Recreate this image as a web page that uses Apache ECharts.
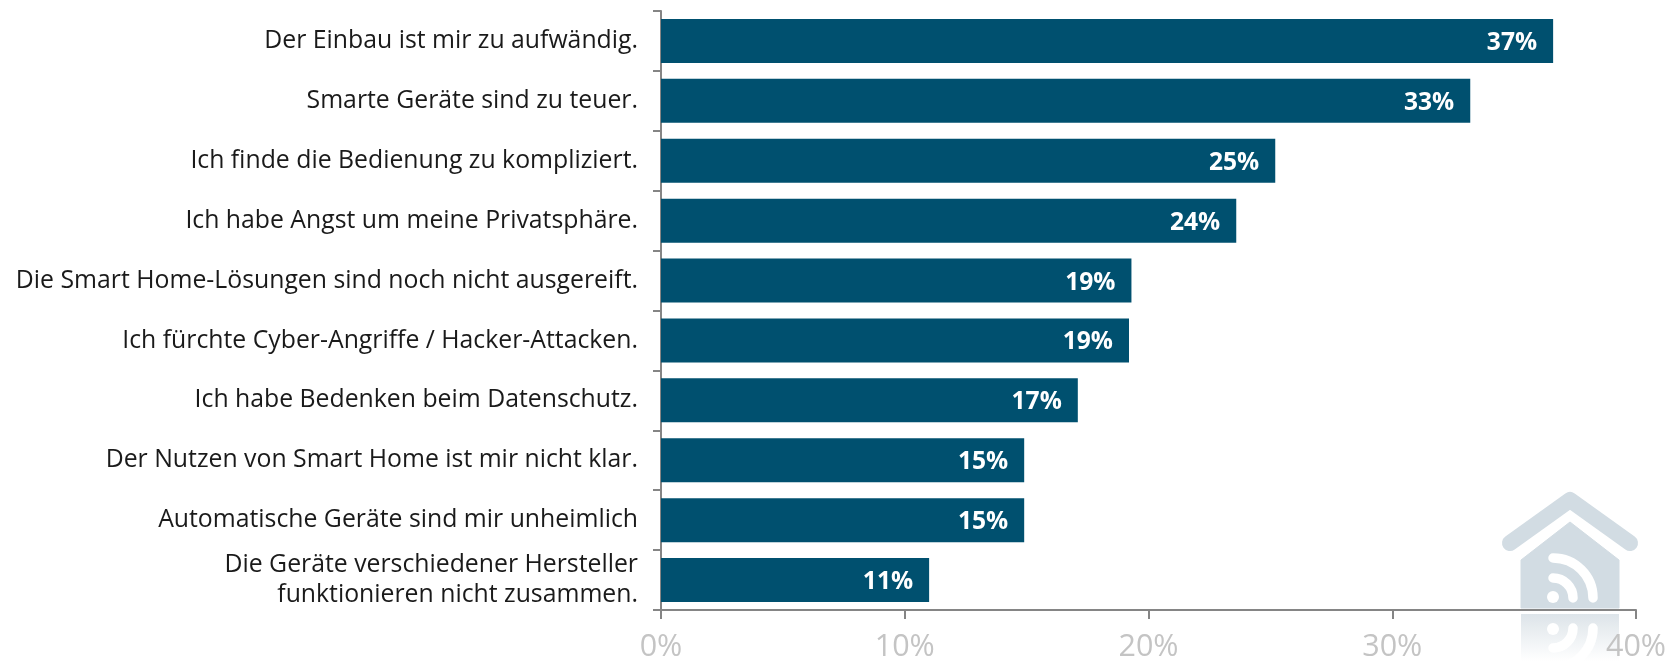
<!DOCTYPE html>
<html><head><meta charset="utf-8">
<style>html,body{margin:0;padding:0;background:#fff}#c{width:1672px;height:661px}</style>
<script src="https://cdn.jsdelivr.net/npm/echarts@6/dist/echarts.min.js"></script></head>
<body><div id="c"></div>
<script>
const categories = ["Der Einbau ist mir zu aufwändig.","Smarte Geräte sind zu teuer.","Ich finde die Bedienung zu kompliziert.","Ich habe Angst um meine Privatsphäre.","Die Smart Home-Lösungen sind noch nicht ausgereift.","Ich fürchte Cyber-Angriffe / Hacker-Attacken.","Ich habe Bedenken beim Datenschutz.","Der Nutzen von Smart Home ist mir nicht klar.","Automatische Geräte sind mir unheimlich","Die Geräte verschiedener Hersteller\nfunktionieren nicht zusammen."];
const values = [36.6,33.2,25.2,23.6,19.3,19.2,17.1,14.9,14.9,11.0];
const barLabels = ["37%","33%","25%","24%","19%","19%","17%","15%","15%","11%"];
const font = '"Open Sans","Noto Sans",sans-serif';
const chart = echarts.init(document.getElementById('c'));
const white = {stroke:'#fff',lineWidth:9.5,fill:null,lineCap:'round'};
chart.setOption({
  animation:false,
  backgroundColor:'#fff',
  grid:{left:661,top:11,width:975,height:599,containLabel:false,outerBoundsMode:'none'},
  graphic:[
    {type:'group',silent:true,children:[
      {type:'polyline',shape:{points:[[1510,543],[1570,500],[1630,543]]},style:{stroke:'#d2dce3',lineWidth:16,lineCap:'round',lineJoin:'round',fill:null}},
      {type:'polygon',shape:{points:[[1521,560],[1570,522],[1619,560],[1619,608],[1521,608]]},style:{fill:'#d2dce3',stroke:'#d2dce3',lineWidth:1,lineJoin:'round'}},
      {type:'arc',shape:{cx:1553,cy:598,r:20,startAngle:-Math.PI/2,endAngle:0},style:white},
      {type:'arc',shape:{cx:1553,cy:598,r:40,startAngle:-Math.PI/2,endAngle:0},style:white},
      {type:'circle',shape:{cx:1553,cy:597,r:6},style:{fill:'#fff'}},
      {type:'rect',shape:{x:1521,y:614,width:98,height:47},style:{fill:new echarts.graphic.LinearGradient(0,0,0,1,[{offset:0,color:'#dde4e9'},{offset:1,color:'#ffffff'}])}},
      {type:'circle',shape:{cx:1553,cy:629,r:6},style:{fill:'#fff'}},
      {type:'arc',shape:{cx:1553,cy:628,r:20,startAngle:0,endAngle:Math.PI/2},style:white},
      {type:'arc',shape:{cx:1553,cy:628,r:40,startAngle:0,endAngle:Math.PI/2},style:white}
    ]}
  ],
  xAxis:{type:'value',min:0,max:40,interval:10,
    axisLine:{show:true,onZero:false,lineStyle:{color:'#858585',width:2}},
    axisTick:{show:true,length:9,lineStyle:{color:'#858585',width:2}},
    splitLine:{show:false},
    axisLabel:{color:'#c4c4c4',fontSize:30.5,fontFamily:font,margin:22,formatter:v=>v+'%',hideOverlap:false,showMaxLabel:true,showMinLabel:true}
  },
  yAxis:{type:'category',inverse:true,data:categories,
    axisLine:{show:true,lineStyle:{color:'#858585',width:2}},
    axisTick:{show:true,length:8,lineStyle:{color:'#858585',width:2}},
    axisLabel:{color:'#1a1a1a',fontSize:24.8,fontFamily:font,margin:23,align:'right',lineHeight:30,interval:0,hideOverlap:false}
  },
  series:[{type:'bar',data:values,barWidth:44,z:3,
    itemStyle:{color:'#00506f'},
    label:{show:true,position:'insideRight',distance:16,offset:[0,2],color:'#fff',fontWeight:'bold',fontSize:24.6,fontFamily:font,
      formatter:p=>barLabels[p.dataIndex]}
  }]
});
</script></body></html>
